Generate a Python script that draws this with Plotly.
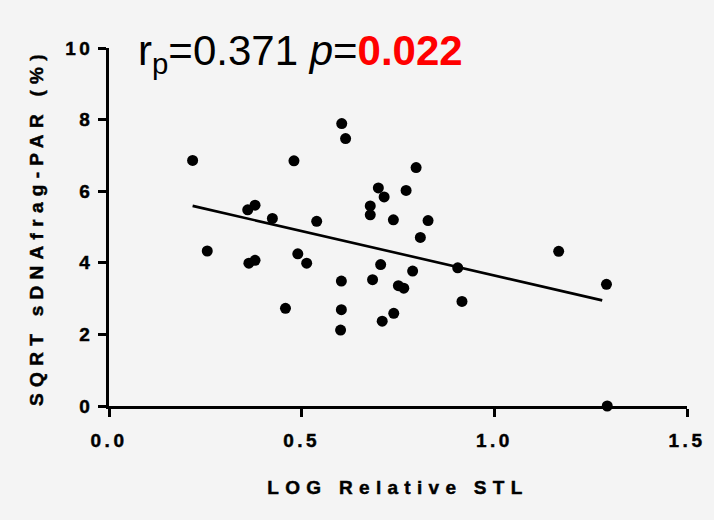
import plotly.graph_objects as go

# Data
log_rel_stl = [0.217, 0.255, 0.360, 0.379, 0.363, 0.379, 0.424, 0.458, 0.480, 0.490,
               0.513, 0.539, 0.604, 0.614, 0.603, 0.603, 0.601, 0.678, 0.678, 0.684,
               0.699, 0.714, 0.705, 0.709, 0.738, 0.739, 0.751, 0.765, 0.771, 0.797,
               0.828, 0.808, 0.788, 0.905, 0.916, 1.167, 1.291, 1.293]
sqrt_sdna = [6.86, 4.33, 5.48, 5.61, 3.99, 4.07, 5.24, 2.73, 6.85, 4.25,
             3.99, 5.16, 7.89, 7.47, 3.49, 2.69, 2.12, 5.59, 5.34, 3.53,
             6.09, 5.84, 3.95, 2.37, 5.20, 2.59, 3.36, 3.29, 6.02, 6.66,
             5.18, 4.71, 3.77, 3.86, 2.92, 4.32, 3.40, 0.00]

fit_x = [0.217, 1.280]
fit_y = [5.59, 2.95]

x_ticks = [0.0, 0.5, 1.0, 1.5]
x_tick_labels = ["0.0", "0.5", "1.0", "1.5"]
y_ticks = [0, 2, 4, 6, 8, 10]
y_tick_labels = ["0", "2", "4", "6", "8", "10"]

r_text = "0.371"
p_text = "0.022"

BG = "#f4f4f4"
FONT = "Liberation Sans, Arial, sans-serif"

fig = go.Figure()
fig.add_trace(go.Scatter(
    x=fit_x, y=fit_y, mode="lines",
    line=dict(color="black", width=2.6),
    cliponaxis=False, showlegend=False, hoverinfo="skip"))
fig.add_trace(go.Scatter(
    x=log_rel_stl, y=sqrt_sdna, mode="markers",
    marker=dict(color="black", size=11, line=dict(width=0)),
    cliponaxis=False, showlegend=False))

axis_common = dict(
    showline=True, linecolor="black", linewidth=2.6,
    ticks="outside", ticklen=8, tickwidth=2.6, tickcolor="black",
    showgrid=False, zeroline=False,
    tickfont=dict(family=FONT, size=19, color="black", weight="bold"),
)

fig.update_layout(
    width=714, height=520,
    margin=dict(l=109, r=27, t=48, b=114),
    paper_bgcolor=BG, plot_bgcolor=BG,
    xaxis=dict(range=[0, 1.5], tickvals=x_ticks, ticktext=x_tick_labels,
               ticklabelstandoff=7,
               title=dict(text="LOG Relative STL", standoff=32,
                          font=dict(family=FONT, size=19, color="black", weight="bold")),
               **axis_common),
    yaxis=dict(range=[0, 10], tickvals=y_ticks, ticktext=y_tick_labels,
               ticklabelstandoff=1,
               title=dict(text="SQRT sDNAfrag-PAR (%)", standoff=24,
                          font=dict(family=FONT, size=19, color="black", weight="bold")),
               **axis_common),
)

fig.add_annotation(
    xref="paper", yref="paper", x=0.047, y=0.985, xanchor="left", yanchor="middle",
    showarrow=False,
    text=("r<sub>p</sub>=" + r_text + " <i>p</i>=" +
          "<span style='color:#ff0000'><b>" + p_text + "</b></span>"),
    font=dict(family=FONT, size=42, color="black"),
)

post = ("var s=document.createElement('style');"
        "s.textContent='html,body{margin:0;padding:0;background:" + BG + ";}"
        ".xtitle,.ytitle{letter-spacing:6.3px;stroke:#000;stroke-width:0.45px}"
        ".xtick text,.ytick text{letter-spacing:3.5px;stroke:#000;stroke-width:0.45px}';"
        "document.head.appendChild(s);")

fig.write_html("out.html", post_script=post, config={"displayModeBar": False})
